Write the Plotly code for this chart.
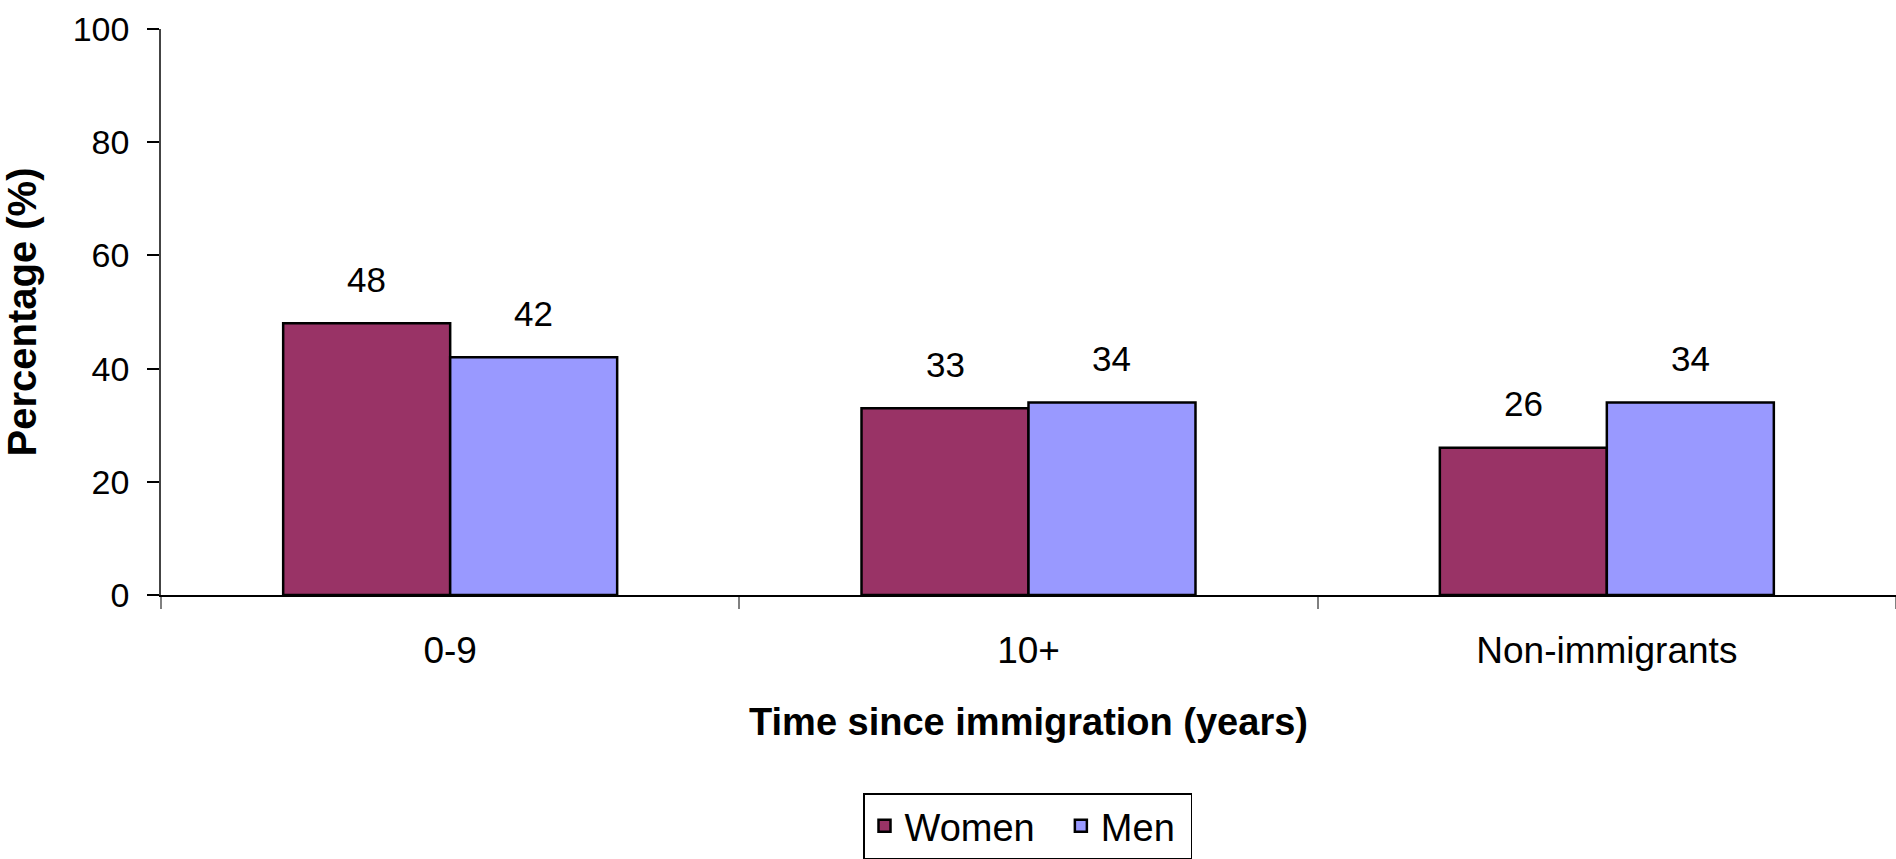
import plotly.graph_objects as go

# Share of respondents by time since immigration, split by sex
categories = ["0-9", "10+", "Non-immigrants"]
women = [48, 33, 26]
men = [42, 34, 34]
y_ticks = [0, 20, 40, 60, 80, 100]

FONT = "Liberation Sans, Arial, sans-serif"
WOMEN_COLOR = "#993366"
MEN_COLOR = "#9999FF"
NBSP = "\u00a0"

W, H = 1896, 859
M_L, M_R, M_T, M_B = 161, 0, 29, 263

fig = go.Figure()
fig.add_trace(go.Bar(
    name="Women" + NBSP * 2, x=categories, y=women,
    marker=dict(color=WOMEN_COLOR, line=dict(color="black", width=2.5)),
))
fig.add_trace(go.Bar(
    name="Men" + NBSP, x=categories, y=men,
    marker=dict(color=MEN_COLOR, line=dict(color="black", width=2.5)),
))

bargap = 0.4225
plot_w = W - M_L - M_R
cat_w = plot_w / len(categories)
bar_w = cat_w * (1 - bargap) / 2

# Value labels above each bar
for series, shift in ((women, -bar_w / 2), (men, bar_w / 2)):
    for cat, val in zip(categories, series):
        fig.add_annotation(
            x=cat, y=val, text=str(val), showarrow=False,
            xshift=shift, yshift=44, yanchor="middle",
            font=dict(family=FONT, size=35, color="black"),
        )

fig.update_layout(
    width=W, height=H,
    margin=dict(l=M_L, r=M_R, t=M_T, b=M_B, pad=0),
    paper_bgcolor="white", plot_bgcolor="white",
    barmode="group", bargap=bargap, bargroupgap=0,
    font=dict(family=FONT, color="black"),
    showlegend=True,
    legend=dict(
        orientation="h", x=(863 - M_L) / plot_w, xanchor="left",
        y=(596 - 794) / (H - M_T - M_B), yanchor="top",
        bordercolor="black", borderwidth=1.5,
        font=dict(family=FONT, size=38, color="black"),
        itemwidth=30, traceorder="normal",
    ),
    xaxis=dict(
        type="category", showgrid=False, zeroline=False,
        showline=True, linecolor="black", linewidth=1.5,
        ticks="outside", tickson="boundaries", ticklen=12,
        tickcolor="#808080", tickwidth=1.5,
        tickfont=dict(family=FONT, size=37, color="black"),
        ticklabelstandoff=22,
        title=dict(text="<b>Time since immigration (years)</b>",
                   font=dict(family=FONT, size=38, color="black"),
                   standoff=38),
    ),
    yaxis=dict(
        range=[0, 100], tickvals=y_ticks, showgrid=False, zeroline=False,
        showline=True, linecolor="#444444", linewidth=1.5,
        ticks="outside", ticklen=12, tickcolor="black", tickwidth=1.5,
        tickfont=dict(family=FONT, size=34, color="black"),
        ticklabelstandoff=11,
        title=dict(text="<b>Percentage (%)</b>",
                   font=dict(family=FONT, size=40, color="black"),
                   standoff=26),
    ),
)

fig.write_html("out.html")
